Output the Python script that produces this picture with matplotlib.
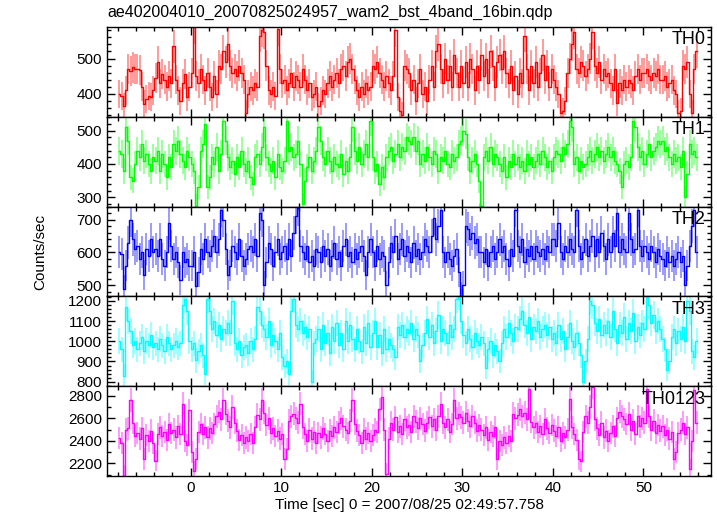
import numpy as np
import matplotlib
matplotlib.use("Agg")
import matplotlib.pyplot as plt
from matplotlib.ticker import MultipleLocator

plt.rcParams['font.family'] = ['Liberation Sans', 'DejaVu Sans']

title = "ae402004010_20070825024957_wam2_bst_4band_16bin.qdp"
xlabel = "Time [sec] 0 = 2007/08/25 02:49:57.758"
ylabel = "Counts/sec"

# 0.25 s bins starting at t = -8 s
bin_start = -8.0
bin_width = 0.25

# counts/sec per bin
th0 = [
    400, 395, 365, 410, 470, 465, 475, 470, 470, 468, 420, 372, 385, 395, 390, 410,
    445, 490, 430, 455, 440, 420, 450, 430, 535, 440, 410, 380, 430, 455, 390, 420,
    460, 590, 450, 430, 470, 440, 410, 460, 420, 390, 450, 400, 480, 470, 520, 490,
    540, 480, 460, 470, 450, 480, 460, 440, 345, 400, 420, 410, 430, 420, 565, 580,
    575, 480, 410, 400, 420, 395, 585, 470, 430, 440, 410, 430, 460, 420, 450, 440,
    420, 470, 440, 410, 430, 390, 400, 420, 365, 380, 410, 400, 430, 450, 420, 440,
    460, 430, 470, 480, 450, 490, 500, 470, 440, 410, 390, 420, 400, 430, 410, 420,
    480, 470, 490, 460, 440, 420, 450, 430, 410, 450, 580, 390, 350, 340, 480, 470,
    460, 410, 440, 380, 430, 470, 400, 420, 380, 440, 480, 420, 520, 540, 470, 430,
    500, 440, 480, 420, 510, 460, 420, 480, 430, 490, 420, 500, 470, 410, 480, 440,
    510, 450, 500, 430, 520, 480, 420, 490, 510, 470, 520, 460, 430, 480, 410, 450,
    400, 460, 430, 565, 470, 410, 480, 430, 490, 420, 460, 510, 440, 480, 420, 470,
    440, 420, 400, 345, 350, 380, 460, 500, 540, 575, 470, 460, 490, 480, 450, 470,
    500, 575, 480, 460, 490, 440, 470, 450, 460, 430, 410, 470, 375, 430, 410, 440,
    420, 440, 430, 410, 450, 470, 440, 460, 460, 470, 450, 440, 460, 450, 470, 440,
    440, 450, 420, 430, 440, 410, 400, 345, 350, 480, 470, 490, 400, 345, 470, 520,
]

th1 = [
    440, 430, 380, 510, 470, 360, 350, 400, 440, 420, 460, 410, 430, 400, 380, 420,
    410, 440, 380, 430, 400, 360, 420, 390, 460, 440, 470, 430, 410, 390, 440, 420,
    400, 380, 275, 330, 440, 460, 520, 330, 360, 420, 400, 450, 380, 430, 530, 470,
    420, 390, 410, 370, 420, 390, 440, 400, 380, 410, 360, 340, 420, 430, 400, 450,
    510, 420, 400, 380, 410, 360, 430, 390, 380, 410, 530, 440, 450, 420, 430, 470,
    400, 280, 350, 390, 420, 380, 410, 440, 510, 470, 420, 400, 440, 410, 380, 420,
    400, 390, 430, 370, 410, 380, 420, 510, 440, 410, 450, 400, 430, 460, 420, 530,
    420, 380, 400, 340, 390, 360, 420, 440, 450, 410, 430, 460, 420, 450, 440, 480,
    470, 460, 480, 440, 470, 400, 430, 410, 450, 420, 400, 440, 430, 380, 420, 410,
    440, 400, 390, 430, 410, 420, 460, 470, 500, 490, 420, 380, 410, 430, 400, 350,
    275, 420, 440, 410, 450, 400, 430, 420, 400, 380, 420, 360, 410, 390, 430, 400,
    420, 390, 410, 380, 430, 400, 420, 390, 410, 430, 400, 440, 420, 390, 410, 380,
    420, 440, 430, 410, 450, 430, 460, 530, 510, 400, 420, 380, 410, 390, 400, 420,
    440, 410, 430, 450, 420, 440, 410, 430, 450, 420, 440, 410, 400, 380, 330, 400,
    410, 390, 420, 530, 510, 450, 420, 440, 400, 430, 460, 420, 440, 450, 470, 460,
    470, 440, 450, 420, 400, 430, 410, 420, 390, 440, 300, 370, 460, 430, 440, 420,
]

th2 = [
    600, 595, 487, 560, 630, 700, 640, 610, 620, 580, 600, 530, 610, 590, 640, 600,
    610, 590, 640, 580, 560, 600, 690, 620, 580, 600, 570, 515, 600, 570, 580, 560,
    560, 600, 497, 540, 610, 580, 640, 600, 590, 620, 650, 600, 640, 730, 700, 610,
    530, 560, 620, 600, 580, 640, 590, 560, 580, 610, 620, 600, 640, 590, 720, 700,
    500, 570, 630, 610, 560, 600, 640, 580, 600, 620, 580, 640, 590, 660, 710, 735,
    620, 600, 580, 620, 570, 590, 560, 610, 600, 570, 620, 590, 610, 560, 590, 630,
    580, 600, 560, 620, 640, 590, 600, 570, 610, 580, 600, 620, 590, 530, 600, 640,
    600, 560, 620, 580, 600, 590, 500, 570, 630, 600, 650, 580, 610, 640, 590, 620,
    600, 570, 630, 590, 610, 580, 600, 640, 620, 600, 650, 705, 640, 680, 730, 600,
    570, 600, 580, 560, 590, 610, 540, 466, 500, 680, 670, 640, 660, 630, 640, 600,
    600, 570, 610, 560, 600, 620, 580, 600, 640, 600, 620, 580, 560, 610, 590, 730,
    620, 600, 640, 570, 610, 590, 620, 580, 620, 600, 590, 610, 580, 620, 600, 640,
    640, 620, 690, 600, 580, 620, 600, 640, 610, 600, 730, 620, 580, 600, 640, 590,
    620, 650, 590, 640, 600, 660, 620, 580, 640, 600, 660, 620, 720, 600, 640, 610,
    600, 720, 640, 600, 610, 730, 620, 590, 620, 600, 580, 620, 600, 570, 610, 590,
    580, 560, 600, 570, 590, 560, 580, 600, 570, 590, 500, 560, 620, 680, 730, 600,
]

th3 = [
    1000, 960, 830, 1170, 1100, 1050, 980, 1000, 960, 990, 1020, 950, 1000, 980, 1030, 970,
    990, 960, 1010, 980, 950, 1020, 990, 960, 980, 1000, 970, 990, 1180, 1210, 1150, 1000,
    960, 990, 905, 950, 980, 930, 840, 1210, 1150, 1060, 1100, 1030, 1080, 1010, 1060, 1040,
    1090, 1040, 1200, 990, 960, 1000, 930, 970, 980, 940, 1000, 960, 1010, 1170, 1150, 1080,
    1060, 1020, 1100, 980, 1030, 1000, 960, 1040, 920, 880, 900, 840, 1150, 1210, 1080, 1060,
    1100, 1040, 1070, 1020, 1060, 800, 990, 1010, 1060, 960, 1080, 990, 1040, 940, 1070, 1000,
    1090, 980, 1040, 960, 1100, 1000, 1080, 1010, 960, 1060, 1000, 950, 1070, 990, 1090, 970,
    1040, 1100, 970, 1030, 940, 1060, 960, 1010, 980, 960, 920, 1070, 1030, 1080, 1020, 1060,
    1040, 1090, 1010, 1060, 1030, 903, 980, 1040, 1110, 1020, 1080, 990, 1050, 1130, 1000, 1060,
    1040, 990, 1080, 1020, 1060, 1210, 1225, 1100, 1030, 990, 1060, 1010, 970, 1040, 1000, 980,
    1020, 990, 870, 960, 1000, 930, 980, 950, 903, 990, 1060, 1020, 1090, 1040, 1000, 1070,
    1060, 1110, 1150, 1080, 1040, 1120, 1010, 1070, 1050, 1100, 1020, 1060, 1080, 1030, 1070, 1010,
    1040, 990, 1080, 1010, 1050, 960, 1020, 1090, 1000, 970, 1040, 990, 930, 800, 900, 1010,
    1200, 1180, 1090, 1050, 1110, 1030, 1080, 1040, 1100, 1020, 1150, 1060, 990, 1080, 1040, 1120,
    1010, 1090, 1050, 1140, 1000, 1070, 1030, 1090, 1060, 1220, 1180, 1090, 1130, 1050, 1100, 1060,
    1010, 960, 860, 900, 1020, 1060, 990, 1050, 1010, 1070, 1000, 1200, 1150, 950, 920, 1000,
]

th0123 = [
    2425, 2380, 2090, 2500, 2510, 2760, 2560, 2440, 2470, 2420, 2510, 2240, 2450, 2400, 2490, 2380,
    2225, 2460, 2520, 2440, 2480, 2410, 2550, 2470, 2500, 2430, 2530, 2460, 2730, 2400, 2360, 2670,
    2300, 2130, 2240, 2480, 2550, 2460, 2520, 2430, 2510, 2470, 2550, 2620, 2660, 2590, 2760, 2640,
    2580, 2520, 2700, 2560, 2490, 2410, 2450, 2380, 2430, 2400, 2460, 2380, 2520, 2630, 2590, 2760,
    2650, 2540, 2600, 2470, 2510, 2440, 2490, 2420, 2460, 2240, 2330, 2580, 2620, 2640, 2600, 2560,
    2730, 2520, 2460, 2400, 2500, 2420, 2480, 2380, 2470, 2430, 2510, 2460, 2400, 2490, 2440, 2520,
    2480, 2560, 2600, 2530, 2500, 2470, 2580, 2760, 2550, 2490, 2450, 2380, 2500, 2420, 2470, 2400,
    2450, 2500, 2480, 2680, 2790, 2500, 2110, 2420, 2560, 2500, 2610, 2480, 2530, 2460, 2590, 2520,
    2540, 2480, 2620, 2570, 2510, 2600, 2550, 2490, 2560, 2610, 2530, 2590, 2500, 2620, 2730, 2560,
    2520, 2590, 2480, 2550, 2760, 2600, 2640, 2610, 2560, 2650, 2580, 2530, 2620, 2560, 2490, 2540,
    2500, 2450, 2520, 2410, 2480, 2440, 2520, 2240, 2400, 2360, 2430, 2380, 2440, 2400, 2640, 2600,
    2630, 2680, 2620, 2650, 2590, 2860, 2570, 2520, 2560, 2480, 2530, 2460, 2590, 2510, 2470, 2540,
    2490, 2440, 2520, 2400, 2470, 2430, 2500, 2770, 2520, 2460, 2410, 2240, 2220, 2480, 2620, 2560,
    2700, 2880, 2590, 2510, 2450, 2560, 2430, 2490, 2400, 2470, 2530, 2440, 2600, 2660, 2620, 2590,
    2550, 2640, 2500, 2580, 2460, 2620, 2530, 2600, 2560, 2860, 2620, 2500, 2580, 2470, 2540, 2490,
    2530, 2450, 2500, 2420, 2480, 2240, 2300, 2470, 2500, 2560, 2460, 2520, 2150, 2400, 2850, 2560,
]

# name, values, colour, y range, major step, minor step
panels = [
    ("TH0", th0, "#ff0000", (335, 590), 100, 20),
    ("TH1", th1, "#00ff00", (272, 542), 100, 20),
    ("TH2", th2, "#0000ff", (466, 740), 100, 20),
    ("TH3", th3, "#00ffff", (778, 1222), 100, 20),
    ("TH0123", th0123, "#ff00ff", (2088, 2885), 200, 100),
]

fig, axes = plt.subplots(5, 1, sharex=True, figsize=(7.17, 5.16), dpi=100)
fig.subplots_adjust(left=0.149, right=0.992, top=0.948, bottom=0.0775, hspace=0)

for ax, (name, vals, color, ylim, major, minor) in zip(axes, panels):
    y = np.array(vals, dtype=float)
    t = bin_start + bin_width * (np.arange(len(y)) + 0.5)
    err = np.sqrt(y / bin_width)  # poisson error of counts/sec
    ax.errorbar(t, y, yerr=err, fmt='none', ecolor=color, elinewidth=1.1, alpha=0.5)
    ax.step(t, y, where='mid', color=color, lw=1.0)
    ax.set_ylim(*ylim)
    ax.yaxis.set_major_locator(MultipleLocator(major))
    ax.yaxis.set_minor_locator(MultipleLocator(minor))
    ax.text(0.99, 0.855, name, transform=ax.transAxes, ha='right', va='center', fontsize=13)
    ax.tick_params(which='both', direction='in', top=True, right=True, labelsize=11, width=1)
    ax.tick_params(which='major', length=6)
    ax.tick_params(which='minor', length=3)
    for s in ax.spines.values():
        s.set_linewidth(1.0)

axes[-1].set_xlim(-9.25, 57.5)
axes[-1].xaxis.set_major_locator(MultipleLocator(10))
axes[-1].xaxis.set_minor_locator(MultipleLocator(2))
axes[-1].set_xlabel(xlabel, fontsize=11, labelpad=2)

fig.text(40 / 717, 0.5 + 0.012, ylabel, rotation=90, ha='center', va='center', fontsize=11)
fig.text(107 / 717, 1 - 12 / 516, title, ha='left', va='center', fontsize=11.5)

fig.savefig("out.png", dpi=100)
